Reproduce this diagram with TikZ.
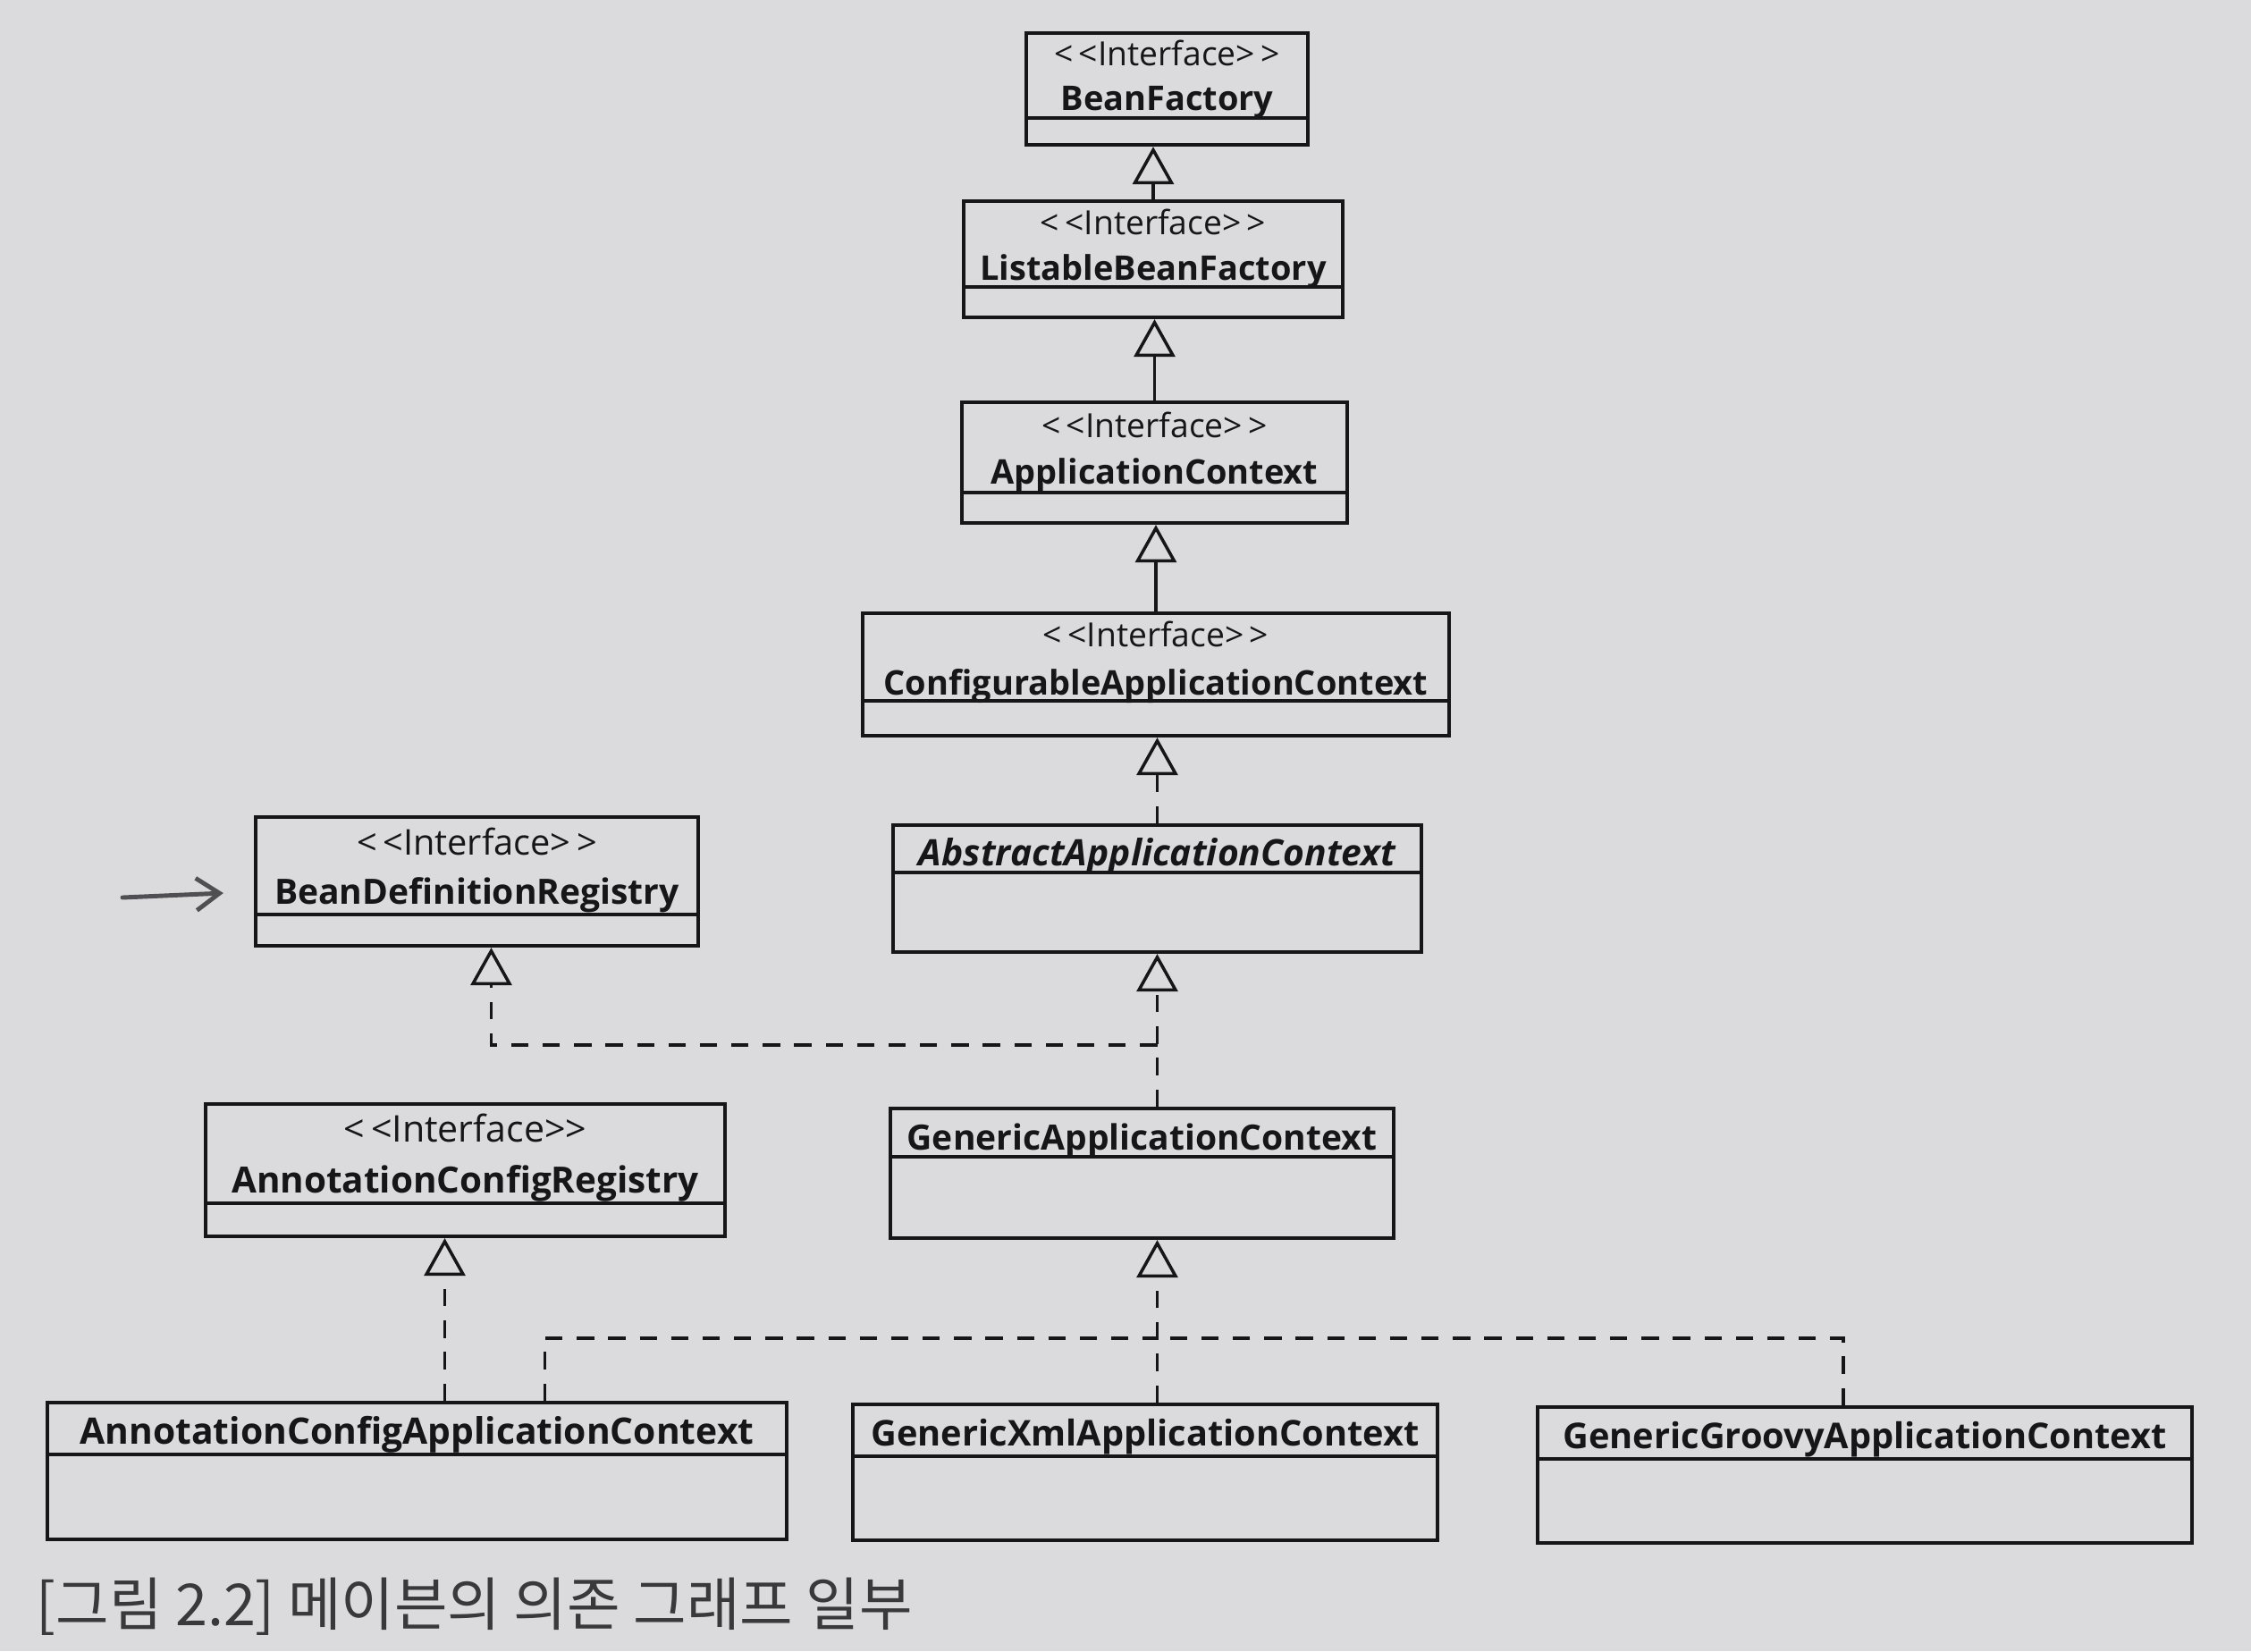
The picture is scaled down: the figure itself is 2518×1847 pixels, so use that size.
\documentclass[tikz,border=0pt]{standalone}
\usepackage{fontspec}
\setmainfont{Open Sans}
\newfontfamily\cjk{Noto Sans CJK KR}
\usetikzlibrary{arrows.meta, fit}

\definecolor{paper}{RGB}{219,219,221}
\definecolor{ink}{RGB}{22,22,24}
\definecolor{pencil}{RGB}{80,80,84}

\tikzset{
  cls/.style={draw=ink, line width=1.2pt, inner sep=0pt},
  part/.style={draw=ink, line width=1.2pt},
  stereo/.style={font=\fontsize{#1}{12}\selectfont, text=ink, inner sep=0pt, anchor=base},
  stereo/.default=10.6,
  cname/.style={font=\fontsize{#1}{13}\selectfont\bfseries, text=ink, inner sep=0pt, anchor=base},
  cname/.default=10.8,
  extends/.style={draw=ink, line width=1pt, -{Triangle[open, length=4.2mm, width=4.6mm]}},
  implements/.style={extends, dash pattern=on 5.5pt off 4.5pt},
  implline/.style={draw=ink, line width=1pt, dash pattern=on 5.5pt off 4.5pt},
  hand/.style={draw=pencil, line width=1.4pt, line cap=round, -{Straight Barb[length=2.6mm, width=3.6mm]}},
  caption/.style={font=\cjk\fontsize{18.4}{21}\selectfont, text=ink!85, inner sep=0pt, anchor=base west}
}

\begin{document}
\begin{tikzpicture}[x=0.01cm, y=-0.01cm]

\fill[paper] (0,0) rectangle (2518,1847);
\useasboundingbox (0,0) rectangle (2518,1847);

% ---- interfaces (top chain) ----
\node[cls, fit={(1148,37) (1463,162)}] (bf) {};
\draw[part] (bf.west |- 0,132) -- (bf.east |- 0,132);
\node[stereo] (bf-st) at (bf.north |- 0,73) {<\,<Interface>\,>};
\node[cname] (bf-nm) at (bf.north |- 0,123) {BeanFactory};

\node[cls, fit={(1078,225) (1502,355)}] (lbf) {};
\draw[part] (lbf.west |- 0,321) -- (lbf.east |- 0,321);
\node[stereo] (lbf-st) at (lbf.north |- 0,262) {<\,<Interface>\,>};
\node[cname] (lbf-nm) at (lbf.north |- 0,313) {ListableBeanFactory};

\node[cls, fit={(1076,450) (1507,585)}] (ac) {};
\draw[part] (ac.west |- 0,551) -- (ac.east |- 0,551);
\node[stereo] (ac-st) at (ac.north |- 0,489) {<\,<Interface>\,>};
\node[cname] (ac-nm) at (ac.north |- 0,541) {ApplicationContext};

\node[cls, fit={(965,686) (1621,823)}] (cac) {};
\draw[part] (cac.west |- 0,784) -- (cac.east |- 0,784);
\node[stereo] (cac-st) at (cac.north |- 0,723) {<\,<Interface>\,>};
\node[cname] (cac-nm) at (cac.north |- 0,777) {ConfigurableApplicationContext};

% ---- classes ----
\node[cls, fit={(999,923) (1590,1065)}] (aac) {};
\draw[part] (aac.west |- 0,976) -- (aac.east |- 0,976);
\node[cname=11.6] (aac-nm) at (aac.north |- 0,968) {\itshape AbstractApplicationContext};

\node[cls, fit={(286,914) (781,1058)}] (bdr) {};
\draw[part] (bdr.west |- 0,1023) -- (bdr.east |- 0,1023);
\node[stereo=11.3] (bdr-st) at (bdr.north |- 0,956) {<\,<Interface>\,>};
\node[cname=11.1] (bdr-nm) at (bdr.north |- 0,1011) {BeanDefinitionRegistry};

\node[cls, fit={(996,1240) (1559,1385)}] (gac) {};
\draw[part] (gac.west |- 0,1294) -- (gac.east |- 0,1294);
\node[cname=11.1] (gac-nm) at (gac.north |- 0,1286) {GenericApplicationContext};

\node[cls, fit={(230,1235) (811,1383)}] (acr) {};
\draw[part] (acr.west |- 0,1346) -- (acr.east |- 0,1346);
\node[stereo=11.7] (acr-st) at (acr.north |- 0,1277) {<\,<Interface>{}>};
\node[cname=11.5] (acr-nm) at (acr.north |- 0,1334) {AnnotationConfigRegistry};

\node[cls, fit={(53,1569) (880,1722)}] (acac) {};
\draw[part] (acac.west |- 0,1627) -- (acac.east |- 0,1627);
\node[cname=11.6] (acac-nm) at (acac.north |- 0,1615) {AnnotationConfigApplicationContext};

\node[cls, fit={(954,1571) (1608,1723)}] (gxac) {};
\draw[part] (gxac.west |- 0,1629) -- (gxac.east |- 0,1629);
\node[cname=11.3] (gxac-nm) at (gxac.north |- 0,1617) {GenericXmlApplicationContext};

\node[cls, fit={(1720,1574) (2452,1726)}] (ggac) {};
\draw[part] (ggac.west |- 0,1632) -- (ggac.east |- 0,1632);
\node[cname=11.3] (ggac-nm) at (ggac.north |- 0,1620) {GenericGroovyApplicationContext};

% ---- generalization ----
\draw[extends] (lbf.north) -- (lbf.north |- bf.south);
\draw[extends] (ac.north) -- (ac.north |- lbf.south);
\draw[extends] (cac.north) -- (cac.north |- ac.south);

% ---- realization ----
\draw[implements] (aac.north) -- (aac.north |- cac.south);
\draw[implements] (gac.north -| aac.south) -- (aac.south);

\coordinate (j1) at (aac.south |- 0,1169);
\draw[implements] (j1) -| ([xshift=0.16cm]bdr.south);

\draw[implements] ([xshift=0.31cm]acac.north) -- ([xshift=0.31cm]acac.north |- acr.south);

\coordinate (j2) at (aac.south |- 0,1497);
\draw[implements] (gxac.north -| j2) -- (j2 |- gac.south);
\draw[implline] ([xshift=1.43cm]acac.north) |- (j2);
\draw[implline] ([xshift=-0.24cm]ggac.north) |- (j2);

% ---- pen mark ----
\coordinate (pen) at (137,1004);
\draw[hand] (pen) -- ([xshift=-0.34cm, yshift=-0.13cm]bdr.west);

% ---- caption ----
\node[caption] (cap) at (40,1818) {[그림 2.2] 메이븐의 의존 그래프 일부};

\end{tikzpicture}
\end{document}
